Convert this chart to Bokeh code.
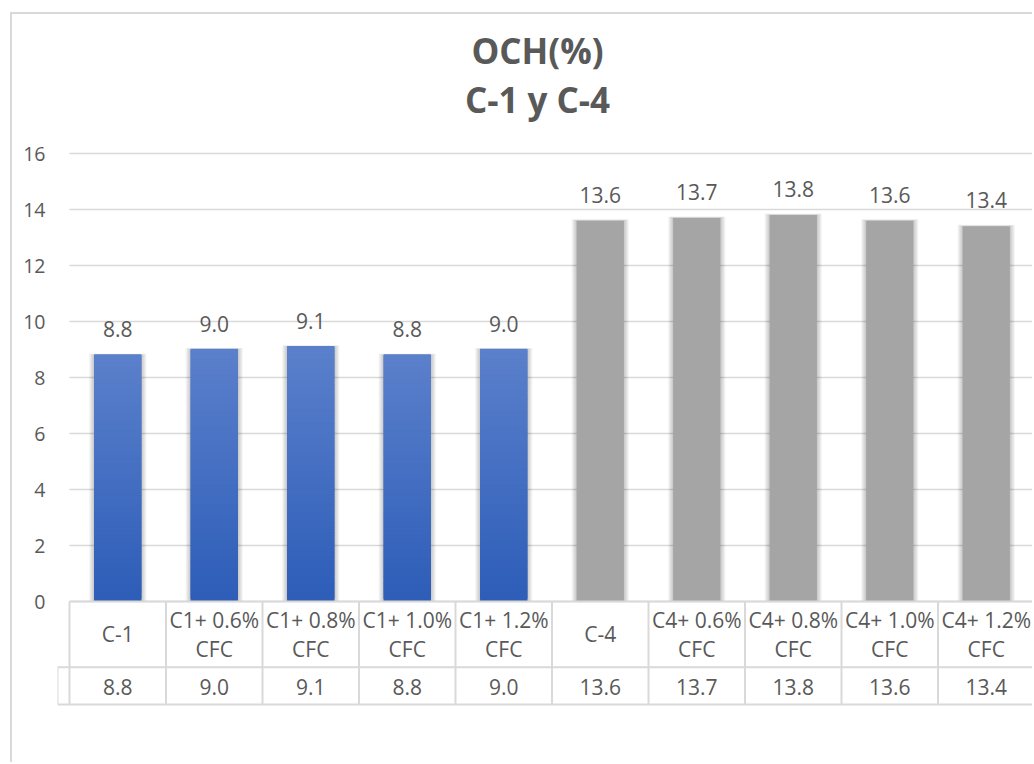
import numpy as np
from bokeh.plotting import figure
from bokeh.models import Range1d, FixedTicker
from bokeh.core.properties import value
from bokeh.embed import file_html
from bokeh.resources import INLINE

# ---- data -------------------------------------------------------------
categories = ["C-1", "C1+ 0.6% CFC", "C1+ 0.8% CFC", "C1+ 1.0% CFC", "C1+ 1.2% CFC",
              "C-4", "C4+ 0.6% CFC", "C4+ 0.8% CFC", "C4+ 1.0% CFC", "C4+ 1.2% CFC"]
och_values = [8.8, 9.0, 9.1, 8.8, 9.0, 13.6, 13.7, 13.8, 13.6, 13.4]
series_group = ["C-1", "C-1", "C-1", "C-1", "C-1", "C-4", "C-4", "C-4", "C-4", "C-4"]
y_ticks = [0, 2, 4, 6, 8, 10, 12, 14, 16]
title_lines = ["OCH(%)", "C-1 y C-4"]

# ---- style ------------------------------------------------------------
TEXT = "#595959"
LINE = "#D9D9D9"
FONT = "Open Sans"
BLUE_TOP = np.array([91, 128, 203])
BLUE_BOTTOM = np.array([45, 93, 184])
GRAY = "#A5A5A5"

# ---- page geometry (pixels) --------------------------------------------
PX0 = 69.0      # left edge of the first category slot
SLOT = 96.5     # width of one category slot
PY0 = 601.0     # baseline (value 0)
PPU = 28.0      # pixels per value unit
CANVAS_X, CANVAS_Y = 12, 14
FRAME_LEFT = 57
BAR_W = 0.49


def xd(px):
    return (px - PX0) / SLOT


def yd(py):
    return (PY0 - py) / PPU


W = 1034 - CANVAS_X
H = 764 - CANVAS_Y

p = figure(width=W, height=H, output_backend="svg", toolbar_location=None,
           x_range=Range1d(xd(FRAME_LEFT), xd(1034)),
           y_range=Range1d(yd(764), yd(CANVAS_Y)),
           x_axis_location=None,
           min_border_left=FRAME_LEFT - CANVAS_X, min_border_right=0,
           min_border_top=0, min_border_bottom=0)
p.margin = (12, 0, 0, 10)
p.styles = {"border-left": "2px solid #D9D9D9", "border-top": "2px solid #D9D9D9"}
p.outline_line_color = None
p.background_fill_color = "white"
p.border_fill_color = "white"

# y axis
p.yaxis.ticker = FixedTicker(ticks=y_ticks)
p.yaxis.axis_line_color = None
p.yaxis.major_tick_line_color = None
p.yaxis.minor_tick_line_color = None
p.yaxis.major_tick_out = 0
p.yaxis.major_tick_in = 0
p.yaxis.major_label_standoff = 12
p.yaxis.major_label_text_font = FONT
p.yaxis.major_label_text_font_size = "19.5px"
p.yaxis.major_label_text_color = TEXT

p.ygrid.ticker = FixedTicker(ticks=y_ticks)
p.ygrid.grid_line_color = LINE
p.ygrid.grid_line_width = 1.3
try:
    p.ygrid.cross_bounds = (0, len(categories))
except Exception:
    pass
p.xgrid.visible = False

centers = [i + 0.5 for i in range(len(categories))]
px1 = 1.0 / SLOT
py1 = 1.0 / PPU

# soft shadow behind bars
for k in range(1, 6):
    p.quad(left=[c - BAR_W / 2 - k * px1 for c in centers],
           right=[c + BAR_W / 2 + k * px1 for c in centers],
           bottom=[0] * len(centers),
           top=[v + k * 0.3 * py1 for v in och_values],
           fill_color="black", fill_alpha=0.045, line_color=None)

# bars: vertical gradient for the C-1 series, flat gray for C-4
N = 100
gl, gr, gb, gt, gc = [], [], [], [], []
for c, v, g in zip(centers, och_values, series_group):
    if g == "C-1":
        for k in range(N):
            t = (k + 0.5) / N
            rgb = BLUE_BOTTOM + (BLUE_TOP - BLUE_BOTTOM) * t
            gl.append(c - BAR_W / 2)
            gr.append(c + BAR_W / 2)
            gb.append(v * k / N)
            gt.append(v * (k + 1) / N + (0.12 if k < N - 1 else 0))
            gc.append("#%02x%02x%02x" % tuple(int(round(x)) for x in rgb))
p.quad(left=gl, right=gr, bottom=gb, top=gt, fill_color=gc, line_color=None)

gray_idx = [i for i, g in enumerate(series_group) if g == "C-4"]
p.vbar(x=[centers[i] for i in gray_idx], top=[och_values[i] for i in gray_idx],
       width=BAR_W, bottom=0, fill_color=GRAY, line_color=None)

# value labels above the bars
p.text(x=centers, y=och_values, text=["%.1f" % v for v in och_values],
       y_offset=-26, text_align="center", text_baseline="alphabetic",
       text_font=value(FONT), text_font_size="21px", text_color=TEXT)

# title
p.text(x=[xd(537)], y=[yd(50)], text=[title_lines[0]], text_align="center",
       text_baseline="middle", text_font=value(FONT), text_font_style="bold",
       text_font_size="35px", text_color=TEXT)
p.text(x=[xd(537)], y=[yd(99)], text=[title_lines[1]], text_align="center",
       text_baseline="middle", text_font=value(FONT), text_font_style="bold",
       text_font_size="35px", text_color=TEXT)

# data table under the axis
ROW1 = 666.7
ROW2 = 704.0
n = len(categories)
p.segment(x0=[0, xd(FRAME_LEFT), xd(FRAME_LEFT)], x1=[n, n, n],
          y0=[0, yd(ROW1), yd(ROW2)], y1=[0, yd(ROW1), yd(ROW2)],
          line_color=LINE, line_width=2)
p.segment(x0=[xd(FRAME_LEFT)] + list(range(n)), x1=[xd(FRAME_LEFT)] + list(range(n)),
          y0=[yd(ROW1)] + [0] * n, y1=[yd(ROW2)] * (n + 1),
          line_color=LINE, line_width=2)

one_x, one_y, one_t = [], [], []
for c, cat in zip(centers, categories):
    if cat.endswith(" CFC"):
        one_x += [c, c]
        one_y += [yd(619), yd(648)]
        one_t += [cat[:-4], "CFC"]
    else:
        one_x.append(c)
        one_y.append(yd(633))
        one_t.append(cat)
p.text(x=one_x, y=one_y, text=one_t, text_align="center", text_baseline="middle",
       text_font=value(FONT), text_font_size="21px", text_color=TEXT)
p.text(x=centers, y=[yd(686)] * n, text=["%.1f" % v for v in och_values],
       text_align="center", text_baseline="middle",
       text_font=value(FONT), text_font_size="21px", text_color=TEXT)

open("out.html", "w").write(file_html(p, INLINE))
